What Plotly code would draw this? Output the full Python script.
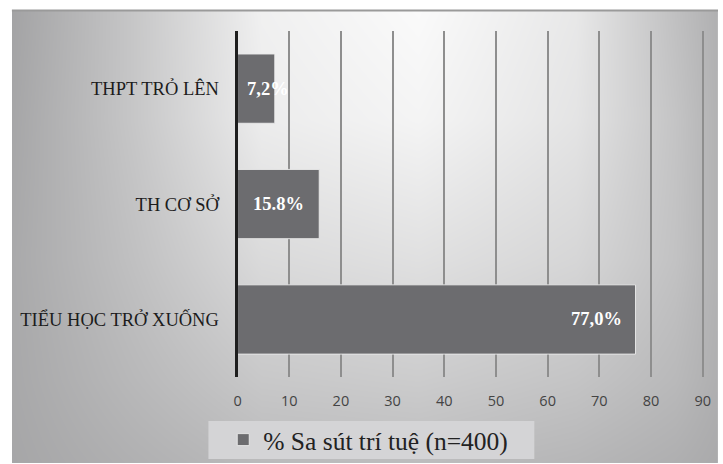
import plotly.graph_objects as go

# Education level vs. share with cognitive decline
categories = ["TIỂU HỌC TRỞ XUỐNG", "TH CƠ SỞ", "THPT TRỎ LÊN"]
values = [77.0, 15.8, 7.2]
value_labels = ["77,0%", "15.8%", "7,2%"]
label_shift = [-12, -13, 16]
series_name = "% Sa sút trí tuệ (n=400)"
x_ticks = [0, 10, 20, 30, 40, 50, 60, 70, 80, 90]

# Background shading (grey levels on a coarse grid, smoothed by the heatmap)
bg_x = [8, 130, 260, 420, 580, 680, 723]
bg_y = [10, 120, 260, 380, 464]
bg_z = [
    [163, 198, 240, 250, 232, 192, 176],
    [166, 198, 236, 244, 228, 196, 178],
    [169, 192, 218, 224, 214, 194, 178],
    [168, 184, 200, 204, 196, 185, 175],
    [166, 176, 186, 188, 182, 175, 170],
]

W, H = 723, 464
px0 = 236.5            # pixel of value 0
ppu = 471.0 / 90.0     # pixels per unit
xmax = 90.6
plot_top, plot_bot = 31, 378
SERIF = "Liberation Serif, Times New Roman, serif"

fig = go.Figure()

fig.add_trace(go.Heatmap(
    x=bg_x, y=bg_y, z=bg_z, zmin=0, zmax=255, zsmooth="best",
    colorscale=[[0, "rgb(0,0,4)"], [1, "rgb(255,255,255)"]],
    showscale=False, hoverinfo="skip", xaxis="x", yaxis="y",
))

fig.add_trace(go.Bar(
    y=categories, x=values, orientation="h", name=series_name,
    marker=dict(color="#6c6c6f", line=dict(color="rgba(235,235,235,0.9)", width=1)),
    width=0.6, xaxis="x2", yaxis="y2", showlegend=True,
))

for cat, v, lab, sh in zip(categories, values, value_labels, label_shift):
    fig.add_annotation(
        x=v, y=cat, xref="x2", yref="y2", text=lab, showarrow=False,
        xanchor="right", xshift=sh,
        font=dict(family=SERIF, size=18.5, color="white", weight="bold"),
    )

# top border of the chart frame
fig.add_shape(type="line", xref="paper", yref="paper",
              x0=8 / W, x1=1, y0=1 - 10.5 / H, y1=1 - 10.5 / H,
              line=dict(color="#9a9a9a", width=2), layer="above")

# legend box
fig.add_shape(type="rect", xref="paper", yref="paper",
              x0=207 / W, x1=537 / W, y0=(H - 460) / H, y1=(H - 422) / H,
              fillcolor="#d4d4d6", line=dict(width=0), layer="above")

fig.update_layout(
    width=W, height=H, margin=dict(l=0, r=0, t=0, b=0),
    paper_bgcolor="white", plot_bgcolor="rgba(0,0,0,0)",
    xaxis=dict(domain=[8 / W, 1], range=[8, 723], visible=False, fixedrange=True),
    yaxis=dict(domain=[0, 1 - 10 / H], range=[464, 10], visible=False, fixedrange=True),
    xaxis2=dict(
        domain=[px0 / W, (px0 + xmax * ppu) / W], range=[0, xmax], anchor="y2",
        tickvals=x_ticks, showgrid=True, gridcolor="#8e8e8e", gridwidth=1.5,
        zeroline=False, showline=False, ticks="",
        tickfont=dict(family="Open Sans", size=14.5, color="#444444"),
        ticklabelstandoff=13,
    ),
    yaxis2=dict(
        domain=[(H - plot_bot) / H, (H - plot_top) / H], anchor="x2",
        type="category", range=[-0.5, 2.5],
        showline=True, linecolor="#1e1e1e", linewidth=3, ticks="",
        showgrid=False, zeroline=False,
        tickfont=dict(family=SERIF, size=18.5, color="#1c1c1c"),
        ticklabelstandoff=12,
    ),
    showlegend=True,
    legend=dict(
        orientation="h", x=222 / W, xanchor="left", y=(H - 441) / H, yanchor="middle",
        bgcolor="rgba(0,0,0,0)",
        font=dict(family=SERIF, size=25.5, color="#222222"),
    ),
)

fig.write_html("out.html")
